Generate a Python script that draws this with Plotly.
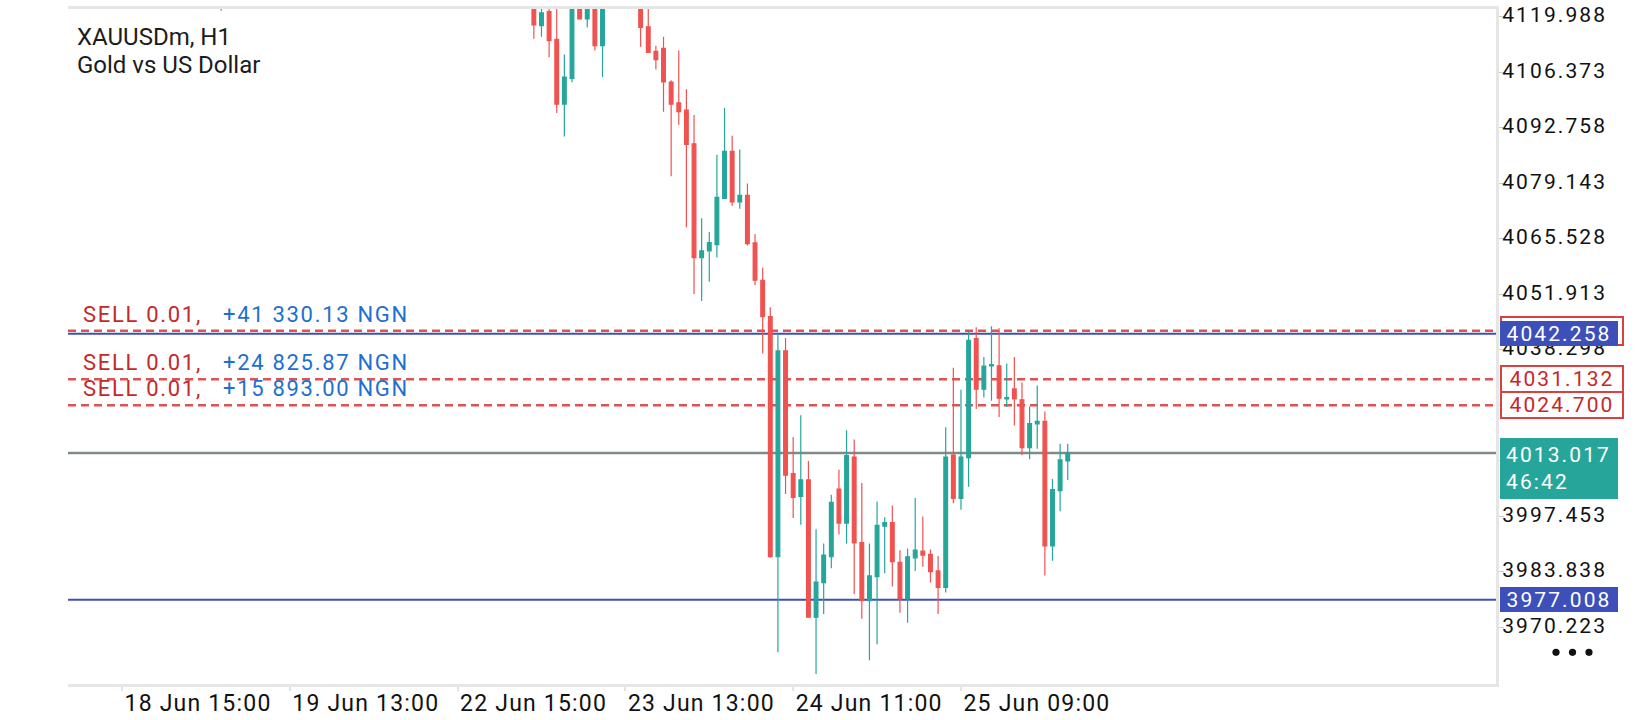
import plotly.graph_objects as go

# ---------------- data ----------------
bar_index = [13, 54, 55, 56, 57, 58, 59, 60, 61, 62, 63,
             68, 69, 70, 71, 72, 73, 74, 75, 76, 77, 78, 79, 80, 81, 82, 83, 84, 85,
             86, 87, 88, 89, 90, 91, 92, 93, 94, 95, 96, 97, 98, 99, 100, 101, 102,
             103, 104, 105, 106, 107, 108, 109, 110, 111, 112, 113, 114, 115, 116,
             117, 118, 119, 120, 121, 122, 123, 124]

opens = [4126.00, 4124.50, 4117.87, 4121.28, 4114.47, 4098.59, 4104.91, 4124.00, 4119.50, 4125.00, 4112.94,
         4126.00, 4117.56, 4111.55, 4112.28, 4104.02, 4098.91, 4097.13, 4088.87, 4060.91, 4062.61, 4064.14,
         4075.50, 4086.99, 4074.60, 4076.23, 4064.55, 4055.39, 4046.49,
         3987.56, 4038.06, 4007.98, 4002.39, 4006.45, 3972.73, 3981.24, 3987.56, 4004.19, 3995.82, 4012.04,
         3991.06, 3976.79, 3982.70, 3995.09, 3995.92, 3986.20,
         3977.20, 3987.31, 3988.94, 3988.14, 3984.08, 3980.02, 4012.53, 4001.90, 4011.87, 4041.05, 4028.65,
         4034.41, 4034.41, 4026.31, 4028.74, 4026.07, 4014.30, 4020.14, 4020.79, 3990.23, 4003.77, 4011.07]

highs = [4133.00, 4127.00, 4123.00, 4123.50, 4123.00, 4110.75, 4126.00, 4126.50, 4125.00, 4127.00, 4127.50,
         4128.50, 4123.00, 4112.94, 4115.13, 4104.43, 4111.72, 4102.24, 4095.92, 4070.63, 4067.23, 4086.19,
         4097.62, 4090.81, 4087.48, 4079.14, 4066.74, 4058.48, 4048.75,
         4042.26, 4041.21, 4016.97, 4022.25, 4011.07, 3994.29, 3990.82, 4002.80, 4008.88, 4018.60, 4016.34,
         4005.65, 3990.82, 4001.10, 3997.28, 4000.13, 3989.19,
         3989.60, 4002.00, 3997.45, 3989.36, 3987.73, 4019.33, 4033.92, 4028.50, 4042.67, 4043.89, 4036.59,
         4044.13, 4043.64, 4034.97, 4036.59, 4030.28, 4024.44, 4029.55, 4023.22, 4006.62, 4015.27, 4015.27]

lows = [4121.50, 4114.64, 4115.13, 4110.10, 4096.41, 4090.64, 4103.94, 4119.45, 4117.39, 4111.72, 4105.23,
        4112.70, 4111.20, 4107.10, 4096.72, 4080.92, 4093.56, 4068.37, 4051.99, 4050.28, 4055.00, 4060.98,
        4075.30, 4073.62, 4072.90, 4063.90, 4054.17, 4037.40, 3987.32,
        3964.14, 4002.97, 3997.04, 3995.43, 3972.60, 3958.79, 3973.55, 3984.74, 3993.00, 3990.82, 3978.42,
        3972.34, 3962.20, 3966.09, 3983.52, 3980.26, 3973.80,
        3971.36, 3984.08, 3985.13, 3981.24, 3973.55, 3978.81, 4000.69, 3999.08, 4004.75, 4023.78, 4026.63,
        4025.83, 4021.84, 4024.27, 4019.75, 4012.45, 4011.48, 4014.06, 3982.94, 3986.58, 3998.74, 4006.38]

closes = [4131.00, 4118.04, 4120.96, 4114.15, 4098.59, 4105.23, 4124.50, 4119.50, 4123.50, 4112.94, 4125.50,
          4117.39, 4111.31, 4109.53, 4104.02, 4098.59, 4096.72, 4088.70, 4060.91, 4062.61, 4064.63, 4075.74,
          4086.99, 4074.60, 4076.23, 4064.39, 4055.39, 4046.49, 3987.56,
          4038.06, 4007.59, 4002.15, 4006.45, 3972.73, 3981.33, 3987.97, 4000.93, 3995.82, 4012.36, 3990.96,
          3976.79, 3982.87, 3995.26, 3995.92, 3986.34, 3977.20,
          3987.56, 3989.19, 3987.97, 3983.91, 3980.02, 4012.04, 4001.90, 4012.04, 4040.66, 4028.65, 4034.34,
          4034.72, 4026.46, 4026.63, 4026.27, 4014.30, 4020.23, 4020.79, 3990.23, 4004.02, 4011.31, 4013.017]

time_tick_bars = [0, 22, 44, 66, 88, 110]
time_tick_labels = ["18 Jun 15:00", "19 Jun 13:00", "22 Jun 15:00",
                    "23 Jun 13:00", "24 Jun 11:00", "25 Jun 09:00"]

price_ticks = [3970.223, 3983.838, 3997.453, 4011.068, 4024.683, 4038.298,
               4051.913, 4065.528, 4079.143, 4092.758, 4106.373, 4119.988]
price_tick_labels = ["%.3f" % v for v in price_ticks]

symbol_text = "XAUUSDm, H1"
symbol_desc = "Gold vs US Dollar"

sell_prices = [4043.016, 4031.132, 4024.700]
sell_labels = ["SELL 0.01,", "SELL 0.01,", "SELL 0.01,"]
sell_profits = ["+41 330.13 NGN", "+24 825.87 NGN", "+15 893.00 NGN"]

blue_levels = [4042.258, 3977.008]
bid_price = 4013.017
bar_timer = "46:42"

# ---------------- styling ----------------
UP = "#26a69a"
DOWN = "#ef5350"
BLUE = "#3d4fb8"
RED_LINE = "#e05252"
RED_TEXT = "#c62828"
PROFIT_BLUE = "#1e6fd0"
FONT = "Roboto"

W, H = 1640, 720
ML, MR, MT, MB = 68, 144, 3, 36
PW = W - ML - MR
PH = H - MT - MB


def px_to_paper_x(px):
    return (px - ML) / PW


def px_to_paper_y(py):
    return (H - MB - py) / PH


def spaced(txt, ls):
    """wrap a label so that it is drawn with the reference's wider letter spacing"""
    return '<span style="letter-spacing:%spx">%s</span>' % (ls, txt)


fig = go.Figure()

fig.add_trace(go.Candlestick(
    x=bar_index, open=opens, high=highs, low=lows, close=closes,
    increasing=dict(line=dict(color=UP, width=1.2), fillcolor=UP),
    decreasing=dict(line=dict(color=DOWN, width=1.2), fillcolor=DOWN),
    whiskerwidth=0, showlegend=False, hoverinfo="skip",
))

shapes = []
for p in sell_prices:
    shapes.append(dict(type="line", xref="paper", x0=0, x1=1, yref="y", y0=p, y1=p,
                       line=dict(color=RED_LINE, width=2.5, dash="8px,5px"), layer="below"))
for p in blue_levels:
    shapes.append(dict(type="line", xref="paper", x0=0, x1=1, yref="y", y0=p, y1=p,
                       line=dict(color=BLUE, width=2), layer="below"))
shapes.append(dict(type="line", xref="paper", x0=0, x1=1, yref="y", y0=bid_price, y1=bid_price,
                   line=dict(color="#7f8b88", width=2.5), layer="below"))
# three dots menu
for k in range(3):
    shapes.append(dict(type="circle", xref="paper", yref="paper",
                       xsizemode="pixel", ysizemode="pixel",
                       xanchor=px_to_paper_x(1556 + 16.5 * k), yanchor=px_to_paper_y(652),
                       x0=-3.6, x1=3.6, y0=-3.6, y1=3.6,
                       fillcolor="#111111", line=dict(width=0)))

ann = []
# symbol text
ann.append(dict(text=symbol_text, xref="paper", yref="paper", x=px_to_paper_x(75), xanchor="left",
                y=px_to_paper_y(31), yanchor="middle", showarrow=False,
                font=dict(family=FONT, size=24, color="#1c1c1c")))
ann.append(dict(text=symbol_desc, xref="paper", yref="paper", x=px_to_paper_x(75), xanchor="left",
                y=px_to_paper_y(59), yanchor="middle", showarrow=False,
                font=dict(family=FONT, size=24, color="#1c1c1c")))
# sell labels
for p, lab, prof in zip(sell_prices, sell_labels, sell_profits):
    ann.append(dict(text=spaced(lab, 1.7), xref="paper", x=px_to_paper_x(81), xanchor="left",
                    yref="y", y=p, yanchor="middle", yshift=16.5, showarrow=False,
                    font=dict(family=FONT, size=22, color=RED_TEXT)))
    ann.append(dict(text=spaced(prof, 1.7), xref="paper", x=px_to_paper_x(221), xanchor="left",
                    yref="y", y=p, yanchor="middle", yshift=16.5, showarrow=False,
                    font=dict(family=FONT, size=22, color=PROFIT_BLUE)))

BOX_X = px_to_paper_x(1500)
LS = 2.1
# red box for top sell (behind blue box)
ann.append(dict(text=spaced("%.3f" % sell_prices[0], LS), xref="paper", x=BOX_X, xanchor="left",
                yref="y", y=sell_prices[0], yanchor="middle", yshift=0, showarrow=False,
                width=120, height=26, align="center", borderpad=0,
                bgcolor="#ffffff", bordercolor="#d94040", borderwidth=2,
                font=dict(family=FONT, size=20, color=RED_TEXT)))
for p in sell_prices[1:]:
    ann.append(dict(text=spaced("%.3f" % p, LS), xref="paper", x=BOX_X, xanchor="left",
                    yref="y", y=p, yanchor="middle", showarrow=False,
                    width=120, height=24, align="center", borderpad=0,
                    bgcolor="#ffffff", bordercolor="#d94040", borderwidth=2,
                    font=dict(family=FONT, size=21, color=RED_TEXT)))
for p in blue_levels:
    ann.append(dict(text=spaced("%.3f" % p, LS), xref="paper", x=BOX_X, xanchor="left",
                    yref="y", y=p, yanchor="middle", showarrow=False,
                    width=116, height=23, align="center", borderpad=1,
                    bgcolor=BLUE, bordercolor=BLUE, borderwidth=0,
                    font=dict(family=FONT, size=21, color="#ffffff")))
ann.append(dict(text=spaced("%.3f" % bid_price, LS) + "<br>" + spaced(bar_timer, LS),
                xref="paper", x=BOX_X, xanchor="left",
                yref="y", y=bid_price, yanchor="top", yshift=15, showarrow=False,
                width=106, height=49, align="left", borderpad=6,
                bgcolor=UP, bordercolor=UP, borderwidth=0,
                font=dict(family=FONT, size=21, color="#ffffff")))

fig.update_layout(
    width=W, height=H,
    margin=dict(l=ML, r=MR, t=MT, b=MB),
    paper_bgcolor="#ffffff", plot_bgcolor="#ffffff",
    shapes=shapes, annotations=ann,
    hovermode=False, dragmode=False,
    xaxis=dict(
        range=[-7.08, 180.15], rangeslider=dict(visible=False),
        tickmode="array", tickvals=time_tick_bars,
        ticktext=[spaced(t, 1.2) for t in time_tick_labels],
        ticklabelposition="outside right", ticklabelstandoff=-4,
        ticks="outside", ticklen=4, tickwidth=2, tickcolor="#e2e2e2",
        showline=True, linecolor="#e6e6e6", linewidth=3, mirror=True,
        showgrid=False, zeroline=False,
        tickfont=dict(family=FONT, size=23, color="#111111"),
    ),
    yaxis=dict(
        side="right", range=[3956.35, 4121.93],
        tickmode="array", tickvals=price_ticks,
        ticktext=[spaced(t, LS) for t in price_tick_labels],
        ticks="outside", ticklen=5, tickwidth=1, tickcolor="#cccccc",
        ticklabelstandoff=-6, ticklabelshift=-2,
        showline=True, linecolor="#e6e6e6", linewidth=3,
        showgrid=False, zeroline=False,
        tickfont=dict(family=FONT, size=21, color="#111111"),
    ),
)

fig.write_html("out.html", config={"displayModeBar": False, "staticPlot": True},
               post_script="document.body.style.margin='0px';document.body.style.padding='0px';")
